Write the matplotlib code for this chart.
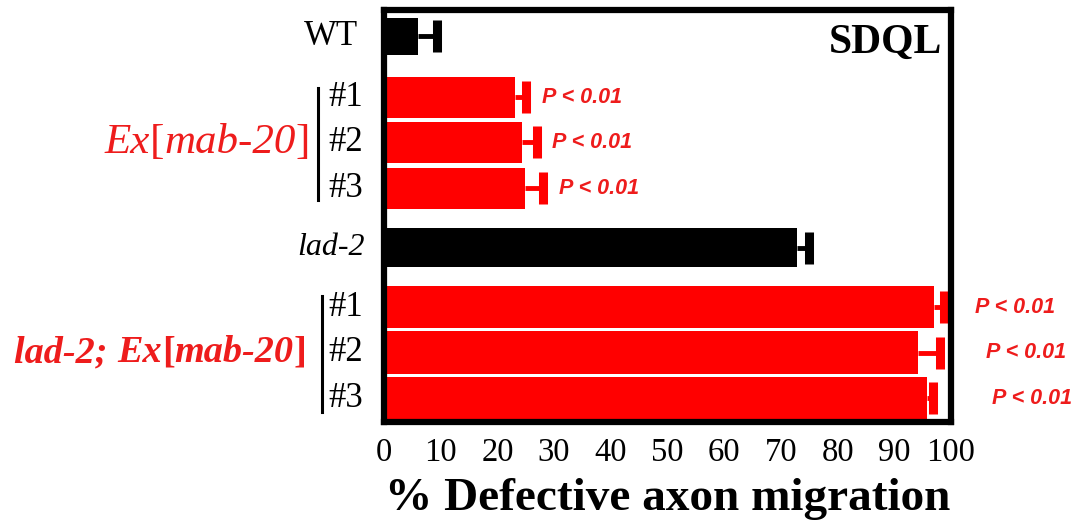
import matplotlib
matplotlib.use("Agg")
import matplotlib.pyplot as plt
from matplotlib.offsetbox import TextArea, HPacker, AnnotationBbox
from matplotlib.lines import Line2D

# ---- data ----
groups = ["WT", "Ex[mab-20]", "Ex[mab-20]", "Ex[mab-20]", "lad-2",
          "lad-2; Ex[mab-20]", "lad-2; Ex[mab-20]", "lad-2; Ex[mab-20]"]
lines_lbl = ["", "#1", "#2", "#3", "", "#1", "#2", "#3"]
values = [6.0, 23.1, 24.3, 24.8, 72.9, 97.0, 94.2, 95.8]
err_top = [9.3, 25.0, 26.9, 28.0, 75.0, 98.8, 98.1, 96.9]
pvals = ["", "P < 0.01", "P < 0.01", "P < 0.01", "",
         "P < 0.01", "P < 0.01", "P < 0.01"]
is_red = [False, True, True, True, False, True, True, True]
xticks = [0, 10, 20, 30, 40, 50, 60, 70, 80, 90, 100]
xlabel = "% Defective axon migration"
panel = "SDQL"

RED = "#ff0000"
TXT_RED = "#ee1c1c"
SERIF = ["Liberation Serif", "DejaVu Serif"]
SANS = ["Liberation Sans", "DejaVu Sans"]

# layout
pos = [0, 1.34, 2.33, 3.34, 4.64, 5.945, 6.945, 7.945]
heights = [0.82, 0.9, 0.9, 0.9, 0.86, 0.93, 0.93, 0.93]
p_offset = [0, 2.8, 2.8, 2.8, 0, 5.4, 8.0, 10.4]
colors = [RED if r else "black" for r in is_red]

fig = plt.figure(figsize=(10.8, 5.27), dpi=100)
ax = fig.add_axes([384/1080, 1-422/527, (951-384)/1080, (422-10)/527])

ax.barh(pos, values, height=heights, color=colors, edgecolor="none", zorder=2)
for v, e, p, c in zip(values, err_top, pos, colors):
    ax.plot([v, e], [p, p], color=c, lw=3.5, solid_capstyle="butt", zorder=3)
    ax.plot([e], [p], marker="|", markersize=23, markeredgewidth=6.5, color=c, zorder=3)

for e, p, t, o in zip(err_top, pos, pvals, p_offset):
    if t:
        ax.text(e + o, p, t, color=TXT_RED, fontsize=15.5, fontweight="bold",
                fontstyle="italic", family=SANS, va="center", ha="left", clip_on=False)

ax.set_xlim(0, 100)
ax.set_ylim(8.47, -0.58)
ax.set_yticks([])
ax.set_xticks(xticks)
ax.set_xticklabels([str(t) for t in xticks], family=SERIF, fontsize=23.5)
ax.tick_params(axis="x", direction="in", length=9, width=2, pad=11)
for s in ax.spines.values():
    s.set_linewidth(4.5)
    s.set_zorder(5)
ax.set_xlabel(xlabel, family=SERIF, fontsize=34, fontweight="bold", labelpad=7)

ax.text(0.985, 0.965, panel, transform=ax.transAxes, ha="right", va="top",
        family=SERIF, fontsize=30, fontweight="bold")

ytr = ax.get_yaxis_transform()
# line labels
for p, l in zip(pos, lines_lbl):
    if l:
        ax.text(-0.037, p, l, transform=ytr, ha="right", va="center",
                family=SERIF, fontsize=25, clip_on=False)
# WT and lad-2
ax.text(-0.045, pos[0], groups[0], transform=ytr, ha="right", va="center",
        family=SERIF, fontsize=25, clip_on=False)
ax.text(-0.033, pos[4], groups[4], transform=ytr, ha="right", va="center",
        family=SERIF, fontsize=23, fontstyle="italic", clip_on=False)

# group bars
ax.add_line(Line2D([-0.116, -0.116], [pos[1]-0.2, pos[3]+0.25], transform=ytr,
                   color="black", lw=2.2, clip_on=False))
ax.add_line(Line2D([-0.109, -0.109], [pos[5]-0.25, pos[7]+0.3], transform=ytr,
                   color="black", lw=2.2, clip_on=False))

def mixed(parts, weight, size):
    boxes = []
    for txt, style in parts:
        boxes.append(TextArea(txt, textprops=dict(color=TXT_RED, family=SERIF,
                                                  fontsize=size, fontstyle=style,
                                                  fontweight=weight)))
    return HPacker(children=boxes, pad=0, sep=0, align="baseline")

g1 = mixed([("Ex", "italic"), ("[", "normal"), ("mab-20", "italic"), ("]", "normal")],
           "normal", 31)
ab1 = AnnotationBbox(g1, (-0.13, (pos[1]+pos[3])/2), xycoords=ytr,
                     box_alignment=(1, 0.5), frameon=False, pad=0, annotation_clip=False)
ax.add_artist(ab1)
g2 = mixed([("lad-2; ", "italic"), ("Ex", "italic"), ("[", "normal"),
            ("mab-20", "italic"), ("]", "normal")], "bold", 27.5)
ab2 = AnnotationBbox(g2, (-0.137, (pos[5]+pos[7])/2), xycoords=ytr,
                     box_alignment=(1, 0.5), frameon=False, pad=0, annotation_clip=False)
ax.add_artist(ab2)

fig.savefig("out.png", dpi=100)
